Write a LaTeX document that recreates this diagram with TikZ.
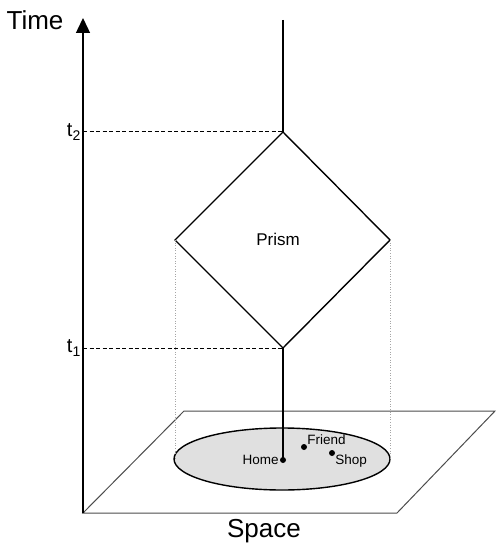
\documentclass[tikz,border=0pt]{standalone}
\usepackage{fontspec}
\setmainfont{Liberation Sans}
\usetikzlibrary{arrows.meta,shapes.geometric}
\begin{document}
\begin{tikzpicture}[x=1pt,y=-1pt,
  axisline/.style={line width=1.4pt,black},
  edge/.style={line width=1.4pt,black},
  plane/.style={line width=1pt,draw=black!70},
  guide/.style={line width=1pt,dashed,dash pattern=on 4pt off 2.5pt},
  proj/.style={line width=0.6pt,draw=black!35,dotted},
  place/.style={circle,fill=black,inner sep=0pt,minimum size=6pt},
  placelabel/.style={font=\fontsize{13.5}{13.5}\selectfont,inner sep=1pt},
  ticklabel/.style={font=\fontsize{20}{20}\selectfont,anchor=east,inner sep=2pt},
  axislabel/.style={font=\fontsize{26}{26}\selectfont,inner sep=0pt}]
\useasboundingbox (0,0) rectangle (495,545);

% axes and ground plane
\coordinate (O) at (83,513);
\coordinate (Tip) at (83,18);
\coordinate (BR) at (397,513);
\coordinate (TR) at (495,411);
\coordinate (TL) at (184,411);
\draw[plane] (O) -- (BR) -- (TR) -- (TL) -- cycle;
\draw[axisline,-{Triangle[length=15pt,width=14pt]}] (O) -- (Tip);
\node[axislabel] (time) at (35,20) {Time};
\node[axislabel] (space) at (264,531) {Space};

% activity region on the plane
\node[ellipse,draw,fill=black!12,line width=1.4pt,minimum width=216pt,minimum height=62pt,inner sep=0pt] (region) at (282,459) {};

% space-time prism
\coordinate (ptop) at (283,132);
\coordinate (pleft) at (175,240);
\coordinate (pright) at (390,240);
\coordinate (pbot) at (283,348);
\coordinate (top) at (283,20);
\draw[edge] (ptop) -- (pright) -- (pbot) -- (pleft) -- cycle;
\node[font=\fontsize{17}{17}\selectfont] (prism) at (278,239) {Prism};

% projections of the prism onto the plane
\coordinate (pleftfoot) at (175,459);
\coordinate (prightfoot) at (390,459);
\draw[proj] (pleft) -- (pleftfoot);
\draw[proj] (pright) -- (prightfoot);

% places
\node[place] (home) at (283,460) {};
\node[place] (friend) at (304,447) {};
\node[place] (shop) at (332,453) {};
\node[placelabel,anchor=east] at (home.west) {Home};
\node[placelabel,anchor=south west] at ([xshift=-1pt,yshift=1pt]friend.east) {Friend};
\node[placelabel,anchor=north west] at ([xshift=-1pt,yshift=-1pt]shop.east) {Shop};

% path through time
\draw[edge] (top) -- (ptop);
\draw[edge] (pbot) -- (home.center);

% time markers
\coordinate (a2) at (83,132);
\coordinate (a1) at (83,348);
\draw[guide] (a2) -- (ptop);
\draw[guide] (a1) -- (pbot);
\node[ticklabel] (t2) at (a2) {t\textsubscript{2}};
\node[ticklabel] (t1) at (a1) {t\textsubscript{1}};
\end{tikzpicture}
\end{document}
